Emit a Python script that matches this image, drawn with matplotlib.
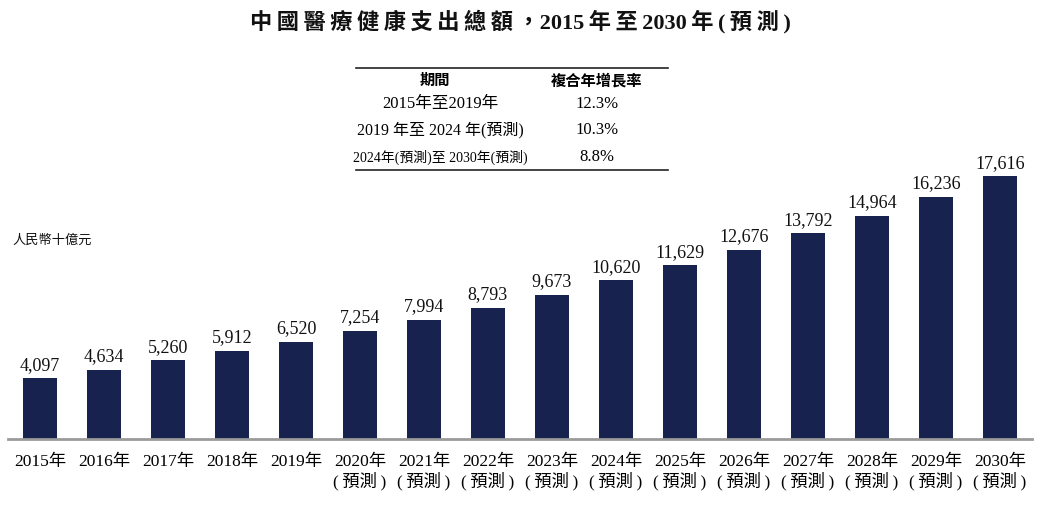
import matplotlib
matplotlib.use("Agg")
import matplotlib.pyplot as plt
from matplotlib.lines import Line2D

plt.rcParams['font.family'] = ['Liberation Serif', 'Noto Sans CJK TC', 'DejaVu Sans']

years = ['2015年', '2016年', '2017年', '2018年', '2019年', '2020年', '2021年', '2022年',
         '2023年', '2024年', '2025年', '2026年', '2027年', '2028年', '2029年', '2030年']
forecast = [False] * 5 + [True] * 11
values = [4097, 4634, 5260, 5912, 6520, 7254, 7994, 8793,
          9673, 10620, 11629, 12676, 13792, 14964, 16236, 17616]

table_periods = ['2015年至2019年', '2019 年至 2024 年(預測)', '2024年(預測)至 2030年(預測)']
table_cagr = ['12.3%', '10.3%', '8.8%']

W, H = 1050, 506
fig = plt.figure(figsize=(W / 100, H / 100), dpi=100)
ax = fig.add_axes([8 / W, (H - 440) / H, 1024 / W, 380 / H])

bar_color = '#18224f'
x = range(len(values))
ax.bar(x, values, width=0.53, color=bar_color)
for i, v in enumerate(values):
    ax.text(i, v + 350, f'{v:,}', ha='center', va='bottom', fontsize=13, color='#111')

ax.set_xlim(-0.5, len(values) - 0.5)
ax.set_ylim(0, 25450)
for s in ['top', 'right', 'left']:
    ax.spines[s].set_visible(False)
ax.spines['bottom'].set_color('#9a9a9a')
ax.spines['bottom'].set_linewidth(2)
ax.set_yticks([])
ax.set_xticks(list(x))
ax.set_xticklabels([y + ('\n(\u2009預測\u2009)' if f else '') for y, f in zip(years, forecast)],
                   fontsize=12.5, linespacing=1.15, va='top')
ax.tick_params(axis='x', length=0, pad=10)

sp = '\u2009'
title = sp.join('中國醫療健康支出總額，') + '2015' + sp + '年' + sp + '至' + sp + '2030' + sp + '年' + sp + '(' + sp + '預' + sp + '測' + sp + ')'
fig.text(520 / W, 1 - 22 / H, title, ha='center', va='center',
         fontsize=16, fontweight='bold', color='#111')
fig.text(12 / W, 1 - 241 / H, '人民幣十億元', ha='left', va='center', fontsize=9.5, color='#111')

# CAGR table
for yy in [69, 171]:
    fig.add_artist(Line2D([356 / W, 668 / W], [1 - yy / H, 1 - yy / H], color='#222', lw=1.2))
fig.text(435 / W, 1 - 81 / H, '期間', ha='center', va='center', fontsize=11, fontweight='bold')
fig.text(597 / W, 1 - 81 / H, '複合年增長率', ha='center', va='center', fontsize=11, fontweight='bold')
row_y = [104, 130, 157]
row_fs = [12, 11.5, 10]
for ry, p, c, fs in zip(row_y, table_periods, table_cagr, row_fs):
    fig.text(440 / W, 1 - ry / H, p, ha='center', va='center', fontsize=fs)
    fig.text(597 / W, 1 - ry / H, c, ha='center', va='center', fontsize=12)

fig.savefig('out.png', dpi=100)
